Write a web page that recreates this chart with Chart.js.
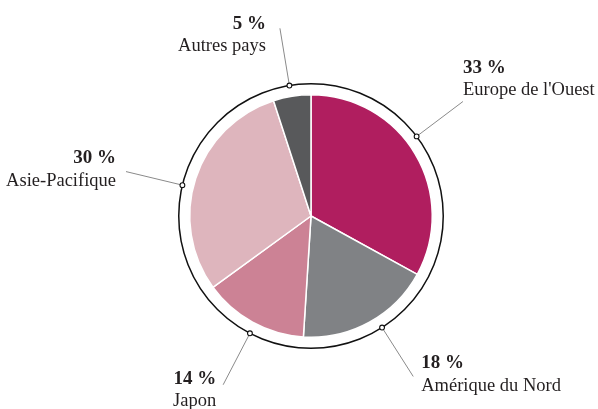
<!DOCTYPE html>
<html>
<head>
<meta charset="utf-8">
<script src="https://cdn.jsdelivr.net/npm/chart.js@4.4.1/dist/chart.umd.min.js"></script>
<style>
html,body{margin:0;padding:0;background:#fff;}
#wrap{width:598px;height:409px;position:relative;}
</style>
</head>
<body>
<div id="wrap"><canvas id="c"></canvas></div>
<script>
// Data
const categories = ["Europe de l'Ouest", "Amérique du Nord", "Japon", "Asie-Pacifique", "Autres pays"];
const shares = [33, 18, 14, 30, 5];
const shareLabels = ["33 %", "18 %", "14 %", "30 %", "5 %"];

// Styles / layout (not data)
const colors = ["#b01e5f", "#808285", "#cc8295", "#deb5bd", "#58595b"];
const leaderAngleDeg = [53, 147.5, 207.5, -76.5, -9.4];
const labelLayout = [
  {align: "left",  dx: 0,   dy1: -29, dy2: -7},
  {align: "left",  dx: 8,   dy1: -8,  dy2: 15},
  {align: "right", dx: -7,  dy1: -1,  dy2: 21},
  {align: "right", dx: -10, dy1: -9,  dy2: 14},
  {align: "right", dx: -14, dy1: 1,   dy2: 23}
];

const ringPlugin = {
  id: "ringLabels",
  afterDraw(chart) {
    const ctx = chart.ctx;
    const meta = chart.getDatasetMeta(0);
    const arc0 = meta.data[0];
    const cx = arc0.x, cy = arc0.y, R = arc0.outerRadius;
    const ringR = R + 11;
    const lineEnd = ringR + 58;
    ctx.save();
    // ring
    ctx.beginPath();
    ctx.arc(cx, cy, ringR, 0, Math.PI * 2);
    ctx.strokeStyle = "#111";
    ctx.lineWidth = 1.5;
    ctx.stroke();
    meta.data.forEach((arc, i) => {
      const a = (leaderAngleDeg[i] - 90) * Math.PI / 180;
      const x1 = cx + ringR * Math.cos(a), y1 = cy + ringR * Math.sin(a);
      const x2 = cx + lineEnd * Math.cos(a), y2 = cy + lineEnd * Math.sin(a);
      ctx.beginPath();
      ctx.moveTo(x1, y1);
      ctx.lineTo(x2, y2);
      ctx.strokeStyle = "#8a8a8a";
      ctx.lineWidth = 1;
      ctx.stroke();
      ctx.beginPath();
      ctx.arc(x1, y1, 2.4, 0, Math.PI * 2);
      ctx.fillStyle = "#fff";
      ctx.fill();
      ctx.strokeStyle = "#111";
      ctx.lineWidth = 1.1;
      ctx.stroke();
      const L = labelLayout[i];
      ctx.textAlign = L.align;
      ctx.textBaseline = "alphabetic";
      ctx.fillStyle = "#231f20";
      ctx.font = "bold 19px 'Liberation Serif'";
      ctx.fillText(shareLabels[i], x2 + L.dx, y2 + L.dy1);
      ctx.font = "18.5px 'Liberation Serif'";
      ctx.fillText(categories[i], x2 + L.dx, y2 + L.dy2);
    });
    ctx.restore();
  }
};

new Chart(document.getElementById("c"), {
  type: "pie",
  data: {
    labels: categories,
    datasets: [{
      data: shares,
      backgroundColor: colors,
      borderColor: "#ffffff",
      borderWidth: 1.5,
      hoverOffset: 0
    }]
  },
  options: {
    responsive: true,
    maintainAspectRatio: false,
    animation: false,
    rotation: 0,
    layout: {padding: {top: 94, bottom: 71, left: 189, right: 165}},
    plugins: {legend: {display: false}, tooltip: {enabled: false}}
  },
  plugins: [ringPlugin]
});
</script>
</body>
</html>
